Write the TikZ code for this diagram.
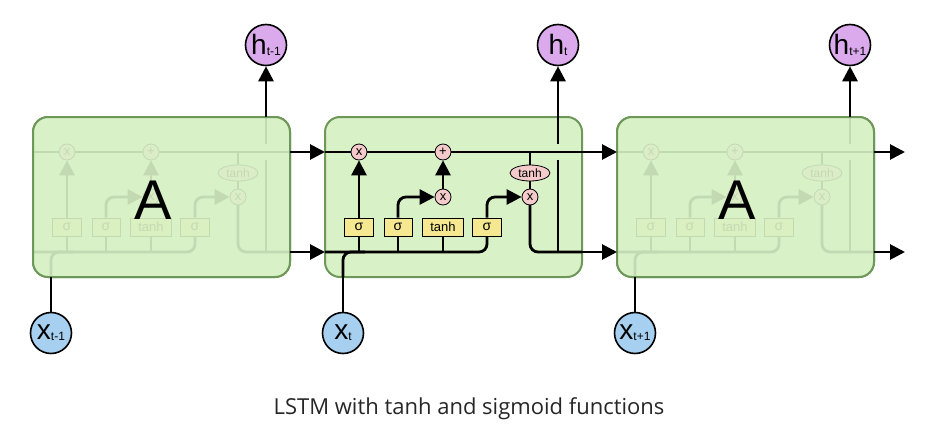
\documentclass[tikz,border=0pt]{standalone}
\usepackage{fontspec}
\setmainfont{Liberation Sans}
\newfontfamily\captionfont{Open Sans}
\usetikzlibrary{arrows.meta,shapes.geometric}
\definecolor{cellgreen}{RGB}{216,241,198}
\definecolor{celledge}{RGB}{110,152,90}
\definecolor{gatepink}{RGB}{244,202,202}
\definecolor{gateyellow}{RGB}{245,232,145}
\definecolor{outpurple}{RGB}{218,170,236}
\definecolor{inblue}{RGB}{166,207,240}
\newcommand{\stepidx}[1]{\raisebox{-1pt}{\fontsize{12}{12}\selectfont #1}}

\begin{document}
\begin{tikzpicture}[x=1pt,y=-1pt,>={Triangle[length=15pt,width=15pt]},
  flow/.style={line width=2.8pt},
  pointop/.style={draw,circle,line width=0.8pt,fill=gatepink,minimum size=16pt,inner sep=0pt,font=\fontsize{13}{13}\selectfont},
  layer/.style={draw,line width=0.8pt,fill=gateyellow,minimum height=18pt,inner sep=0pt,font=\fontsize{14}{14}\selectfont},
  cellbox/.style={draw=celledge,line width=2pt,fill=cellgreen,rounded corners=15pt},
  veil/.style={fill=cellgreen,fill opacity=0.9,rounded corners=15pt},
  vecnode/.style={draw,circle,line width=1.6pt,minimum size=41pt,inner sep=0pt,font=\fontsize{28}{28}\selectfont},
  lstmcell/.pic={
    % inner wiring of one cell, origin at the top left corner
    \coordinate (-cin) at (0,35);
    \coordinate (-cout) at (257,35);
    \coordinate (-tap) at (205,35);
    \coordinate (-hin) at (0,135);
    \coordinate (-hout) at (257,135);
    \coordinate (-hjoin) at (40,135);
    \coordinate (-xbot) at (18,160);
    \coordinate (-tap1) at (34,135);
    \coordinate (-tap2) at (73,135);
    \coordinate (-tap3) at (118,135);
    \coordinate (-hsplit) at (233,135);
    \coordinate (-gapbot) at (233,43);
    \coordinate (-gaptop) at (233,27);
    \coordinate (-htop) at (233,0);
    \draw[flow] (-cin) -- (-cout);
    \draw[flow,rounded corners=8pt] (-hin) -| (162,119);
    \draw[flow,rounded corners=8pt] (-xbot) |- (-hjoin);
    \draw[flow] (-tap1) -- (34,110);
    \draw[flow] (-tap2) -- (73,110);
    \draw[flow] (-tap3) -- (118,110);
    \draw[flow] (-tap) -- (205,80);
    \draw[flow,rounded corners=8pt] (205,80) |- (-hout);
    \draw[flow] (-hsplit) -- (-gapbot);
    \draw[flow] (-gaptop) -- (-htop);
    \node[pointop] (-forget) at (34,35) {x};
    \node[pointop] (-add) at (118,35) {+};
    \node[pointop] (-gate) at (118,80) {x};
    \node[pointop] (-outmul) at (205,80) {x};
    \node[pointop,ellipse,minimum width=40pt,minimum height=16pt,font=\fontsize{12}{12}\selectfont] (-squash) at (205,56) {tanh};
    \node[layer,minimum width=29pt] (-sig1) at (34,110) {σ};
    \node[layer,minimum width=28pt] (-sig2) at (73,110) {σ};
    \node[layer,minimum width=41pt,font=\fontsize{13}{13}\selectfont] (-cand) at (118,110) {tanh};
    \node[layer,minimum width=29pt] (-sig3) at (162,110) {σ};
    \draw[flow,->] (-sig1) -- (-forget);
    \draw[flow,->,rounded corners=8pt] (-sig2) |- (-gate);
    \draw[flow,->] (-gate) -- (-add);
    \draw[flow,->,rounded corners=8pt] (-sig3) |- (-outmul);
  }]
\useasboundingbox (0,0) rectangle (940,439);

% previous cell
\draw[cellbox] (33,117) rectangle ++(257,160);
\pic (prev) at (33,117) {lstmcell};
\fill[veil] (33,117) rectangle ++(257,160);
\draw[cellbox,fill=none] (33,117) rectangle ++(257,160);
\node[font=\fontsize{56}{56}\selectfont] (prevA) at (153,200) {A};

% current cell
\draw[cellbox] (325,117) rectangle ++(257,160);
\pic (cur) at (325,117) {lstmcell};

% next cell
\draw[cellbox] (617,117) rectangle ++(257,160);
\pic (next) at (617,117) {lstmcell};
\fill[veil] (617,117) rectangle ++(257,160);
\draw[cellbox,fill=none] (617,117) rectangle ++(257,160);
\node[font=\fontsize{56}{56}\selectfont] (nextA) at (737,200) {A};

% inputs and outputs
\node[vecnode,fill=outpurple] (hprev) at (266,45) {h\stepidx{t-1}};
\node[vecnode,fill=outpurple] (hcur) at (558,45) {h\stepidx{t}};
\node[vecnode,fill=outpurple] (hnext) at (850,45) {h\stepidx{t+1}};
\node[vecnode,fill=inblue] (xprev) at (51,333) {x\stepidx{t-1}};
\node[vecnode,fill=inblue] (xcur) at (343,333) {x\stepidx{t}};
\node[vecnode,fill=inblue] (xnext) at (635,333) {x\stepidx{t+1}};
\coordinate (cend) at (905,152);
\coordinate (hend) at (905,252);

\draw[flow,->] (prev-cout) -- (cur-cin);
\draw[flow,->] (prev-hout) -- (cur-hin);
\draw[flow,->] (cur-cout) -- (next-cin);
\draw[flow,->] (cur-hout) -- (next-hin);
\draw[flow,->] (next-cout) -- (cend);
\draw[flow,->] (next-hout) -- (hend);
\draw[flow,->] (prev-htop) -- (hprev);
\draw[flow,->] (cur-htop) -- (hcur);
\draw[flow,->] (next-htop) -- (hnext);
\draw[flow] (xprev) -- (prev-xbot);
\draw[flow] (xcur) -- (cur-xbot);
\draw[flow] (xnext) -- (next-xbot);

\node[font=\captionfont\fontsize{22}{22}\selectfont,text=black!85] (caption) at (469,409) {LSTM with tanh and sigmoid functions};
\end{tikzpicture}
\end{document}
